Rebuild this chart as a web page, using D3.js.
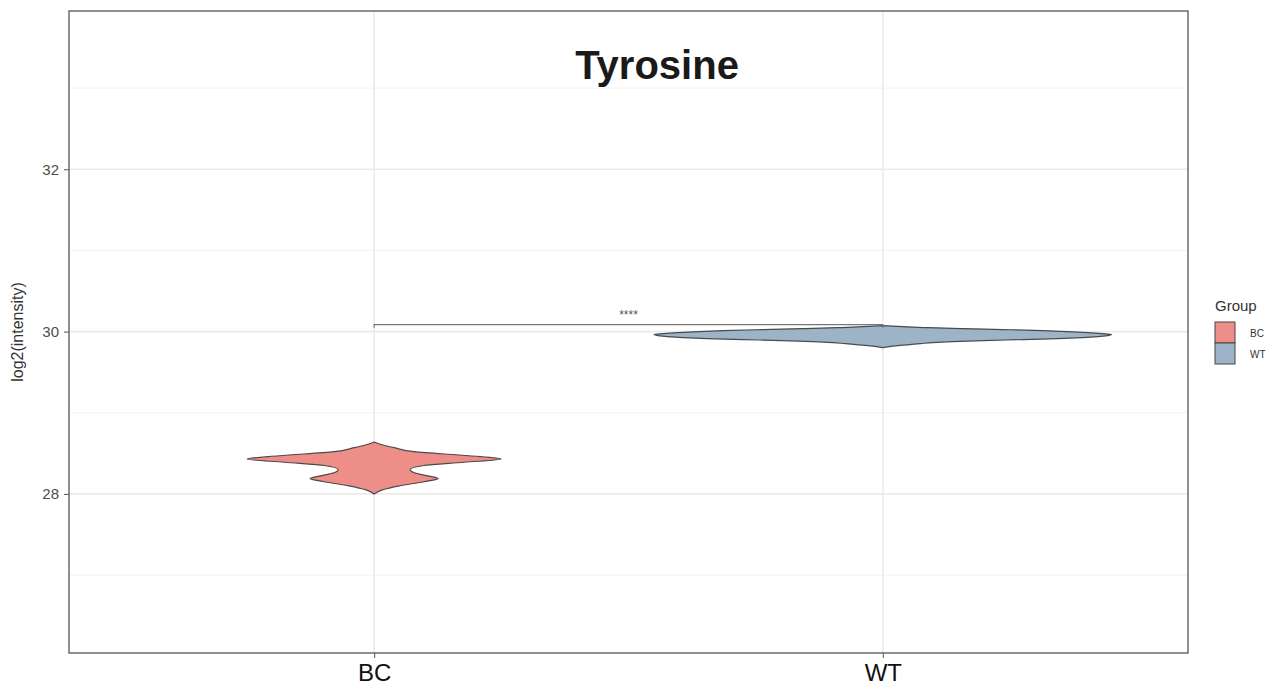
<!DOCTYPE html>
<html>
<head>
<meta charset="utf-8">
<script src="https://cdn.jsdelivr.net/npm/d3@7"></script>
<style>
  body { margin: 0; background: #fff; }
  text { font-family: "Liberation Sans", Arial, sans-serif; }
</style>
</head>
<body>
<div id="chart"></div>
<script>
// chart data
var title = "Tyrosine"
var groups = ["BC", "WT"]
var groupColors = ["#EE8E89", "#9DB4C8"]
var yTicks = [28, 30, 32]
var yMinor = [27, 29, 31, 33]

// violin outlines: log2 value and density at that value
var bcValues  = [28.00, 28.05, 28.10, 28.15, 28.19, 28.22, 28.26, 28.30, 28.35, 28.39, 28.43, 28.47, 28.52, 28.57, 28.60, 28.64]
var bcDensity = [0, 0.14, 0.44, 0.87, 1.12, 0.96, 0.70, 0.63, 0.87, 1.57, 2.22, 1.66, 0.70, 0.35, 0.17, 0]
var wtValues  = [29.803, 29.828, 29.852, 29.865, 29.877, 29.889, 29.902, 29.914, 29.926, 29.938, 29.951, 29.963, 29.975, 29.988, 30.000, 30.012, 30.025, 30.037, 30.049, 30.062, 30.074]
var wtDensity = [0, 0.26, 0.66, 0.87, 1.22, 1.75, 2.45, 3.06, 3.49, 3.76, 3.93, 4.0, 3.84, 3.58, 3.23, 2.79, 2.10, 1.40, 0.79, 0.35, 0]

// significance bracket
var sigLabel = "****"
var sigY = 30.085

var width = 1285
var height = 692
var panel = {left: 69, right: 1188, top: 11, bottom: 653}

var svg = d3.select("#chart").append("svg")
    .attr("width", width)
    .attr("height", height)

var y = d3.scaleLinear()
    .domain([26.04, 33.95])
    .range([panel.bottom, panel.top])

// discrete axis with 0.6 expansion on each side
var x = d3.scalePoint()
    .domain(groups)
    .range([panel.left, panel.right])
    .padding(0.6)
var unit = x.step()

// grid
var grid = svg.append("g")
grid.selectAll(".minor").data(yMinor).enter().append("line")
    .attr("x1", panel.left).attr("x2", panel.right)
    .attr("y1", function(d) { return y(d) }).attr("y2", function(d) { return y(d) })
    .style("stroke", "#f2f2f2").style("stroke-width", 1)
grid.selectAll(".major").data(yTicks).enter().append("line")
    .attr("x1", panel.left).attr("x2", panel.right)
    .attr("y1", function(d) { return y(d) }).attr("y2", function(d) { return y(d) })
    .style("stroke", "#ebebeb").style("stroke-width", 1.6)
grid.selectAll(".xmajor").data(groups).enter().append("line")
    .attr("x1", function(d) { return x(d) }).attr("x2", function(d) { return x(d) })
    .attr("y1", panel.top).attr("y2", panel.bottom)
    .style("stroke", "#ebebeb").style("stroke-width", 1.6)

// violins
var maxDensity = d3.max(bcDensity.concat(wtDensity))
var w = d3.scaleLinear().domain([0, maxDensity]).range([0, unit * 0.45])

var violins = [
    {group: "BC", values: bcValues, density: bcDensity, color: groupColors[0]},
    {group: "WT", values: wtValues, density: wtDensity, color: groupColors[1]}
]

violins.forEach(function(v) {
    var pts = v.values.map(function(val, i) { return {v: val, d: v.density[i]} })
    var cx = x(v.group)
    var area = d3.area()
        .curve(d3.curveMonotoneY)
        .y(function(d) { return y(d.v) })
        .x0(function(d) { return cx - w(d.d) })
        .x1(function(d) { return cx + w(d.d) })
    svg.append("path")
        .datum(pts)
        .attr("d", area)
        .style("fill", v.color)
        .style("stroke", "#4a4a4a")
        .style("stroke-width", 1.2)
})

// significance bracket
var sy = y(sigY)
svg.append("path")
    .attr("d", "M" + x("BC") + "," + (sy + 3) + "V" + sy + "H" + x("WT") + "V" + (sy + 3))
    .style("fill", "none")
    .style("stroke", "#777")
    .style("stroke-width", 1.2)
svg.append("text")
    .attr("x", (x("BC") + x("WT")) / 2)
    .attr("y", sy - 6)
    .attr("text-anchor", "middle")
    .style("font-size", "12px")
    .style("fill", "#555")
    .text(sigLabel)

// title
svg.append("text")
    .attr("x", 657)
    .attr("y", 79)
    .attr("text-anchor", "middle")
    .style("font-size", "40px")
    .style("font-weight", "bold")
    .style("fill", "#1a1a1a")
    .text(title)

// panel border
svg.append("rect")
    .attr("x", panel.left).attr("y", panel.top)
    .attr("width", panel.right - panel.left)
    .attr("height", panel.bottom - panel.top)
    .style("fill", "none")
    .style("stroke", "#555")
    .style("stroke-width", 1.3)

// y axis
var yAxis = svg.append("g")
    .attr("transform", "translate(" + panel.left + ",0)")
    .call(d3.axisLeft(y).tickValues(yTicks).tickSize(5).tickPadding(5))
yAxis.select(".domain").remove()
yAxis.selectAll("line").style("stroke", "#555")
yAxis.selectAll("text")
    .style("font-size", "15px")
    .style("fill", "#4d4d4d")
    .style("font-family", "'Liberation Sans', Arial, sans-serif")

svg.append("text")
    .attr("transform", "translate(23," + ((panel.top + panel.bottom) / 2) + ") rotate(-90)")
    .attr("text-anchor", "middle")
    .style("font-size", "16px")
    .style("fill", "#333")
    .text("log2(intensity)")

// x axis
var xAxis = svg.append("g")
    .attr("transform", "translate(0," + panel.bottom + ")")
    .call(d3.axisBottom(x).tickSize(5).tickPadding(6))
xAxis.select(".domain").remove()
xAxis.selectAll("line").style("stroke", "#555")
xAxis.selectAll("text")
    .style("font-size", "24px")
    .style("fill", "#111")
    .style("font-family", "'Liberation Sans', Arial, sans-serif")

// legend
var legend = svg.append("g").attr("transform", "translate(1215,0)")
legend.append("text")
    .attr("x", 0).attr("y", 311)
    .style("font-size", "15px")
    .style("fill", "#333")
    .text("Group")
legend.selectAll(".key").data(groups).enter().append("rect")
    .attr("x", 0)
    .attr("y", function(d, i) { return 322 + i * 21 })
    .attr("width", 20).attr("height", 21)
    .style("fill", function(d, i) { return groupColors[i] })
    .style("stroke", "#444")
    .style("stroke-width", 1)
legend.selectAll(".lab").data(groups).enter().append("text")
    .attr("x", 35)
    .attr("y", function(d, i) { return 333 + i * 21 })
    .attr("dy", "0.35em")
    .style("font-size", "10px")
    .style("fill", "#333")
    .text(function(d) { return d })
</script>
</body>
</html>
